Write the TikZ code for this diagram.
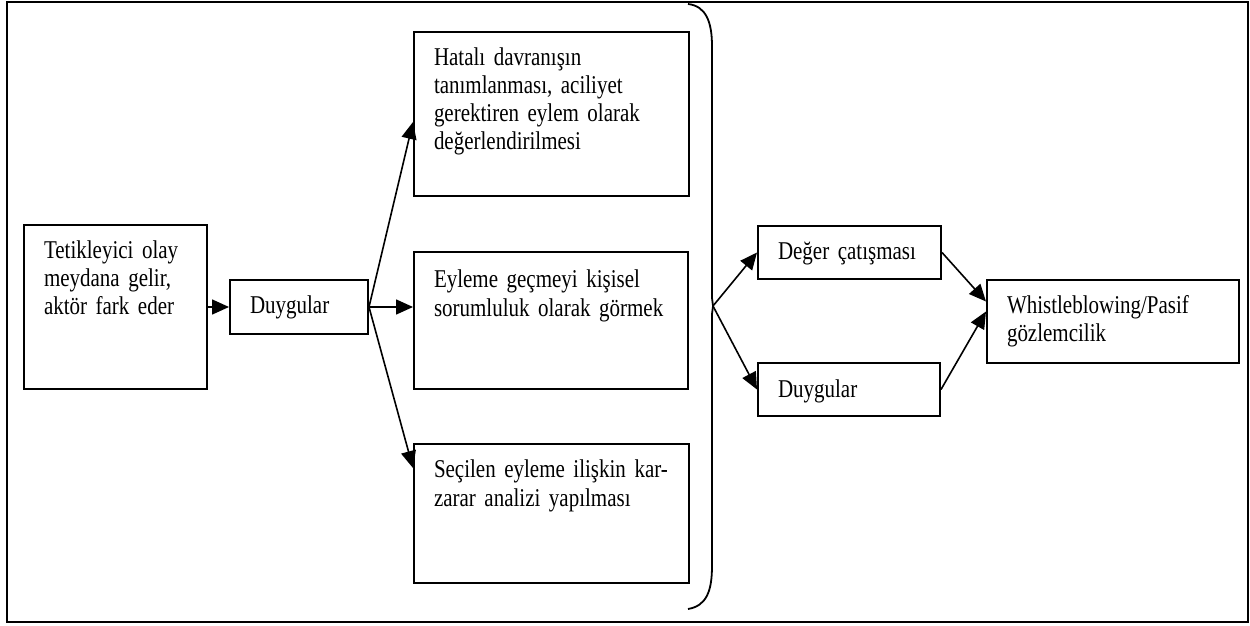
\documentclass[tikz,border=0pt]{standalone}
\usepackage{fontspec}
\setmainfont[FakeStretch=0.82, WordSpace=0.8]{Liberation Serif}
\usepackage{tikz}
\usetikzlibrary{arrows.meta}

\tikzset{
  stage/.style={draw, line width=1pt, anchor=north west, align=left,
    inner xsep=10pt, inner ysep=0pt, text height=17pt,
    font=\fontsize{12.8pt}{14pt}\selectfont},
  flow/.style={line width=0.8pt, -{Triangle[length=8.5pt,width=7.5pt]}}
}

\begin{document}
\begin{tikzpicture}[x=0.5pt,y=-0.5pt]
\useasboundingbox (0,0) rectangle (1250,626);
\draw[line width=1.3pt] (7,2) rectangle (1248,622);

\node[stage, text width=71.5pt, text depth=65pt] (trigger) at (23,224) {Tetikleyici olay\\meydana gelir,\\aktör fark eder};
\node[stage, text width=49pt, text depth=10pt] (duygu1) at (229,279) {Duygular};

\node[stage, text width=117.5pt, text depth=65pt] (hatali) at (413,31) {Hatalı davranışın\\tanımlanması, aciliyet\\gerektiren eylem olarak\\değerlendirilmesi};
\node[stage, text width=117pt, text height=18pt, text depth=50.5pt] (sorumlu) at (413,251) {Eyleme geçmeyi kişisel\\sorumluluk olarak görmek};
\node[stage, text width=117.5pt, text depth=52.5pt] (analiz) at (413,443) {Seçilen eyleme ilişkin kar-\\zarar analizi yapılması};

\node[stage, text width=71.5pt, text depth=9.5pt] (deger) at (757,225) {Değer çatışması};
\node[stage, text width=71pt, text depth=9.5pt] (duygu2) at (757,362) {Duygular};
\node[stage, text width=106pt, text depth=24.5pt] (whistle) at (986,279) {Whistleblowing/Pasif\\gözlemcilik};

% brace round the three boxes
\coordinate (split) at (713,306);
\draw[line width=0.9pt] (688,4) .. controls (706,6) and (712,22) .. (712,46) -- (712,298) -- (split) -- (712,314) -- (712,566) .. controls (712,592) and (706,606) .. (688,609);

\draw[flow] (trigger) -- (duygu1);
\draw[flow] (duygu1.east) -- ([yshift=-45.5pt]hatali.north west);
\draw[flow] (duygu1.east) -- (duygu1.east -| sorumlu.west);
\draw[flow] (duygu1.east) -- ([yshift=-12.5pt]analiz.north west);

\draw[flow] (split) -- (deger.west);
\draw[flow] (split) -- (duygu2.west);
\draw[flow] (deger.east) -- ([yshift=10pt]whistle.west);
\draw[flow] (duygu2.east) -- ([yshift=5pt]whistle.west);
\end{tikzpicture}
\end{document}
